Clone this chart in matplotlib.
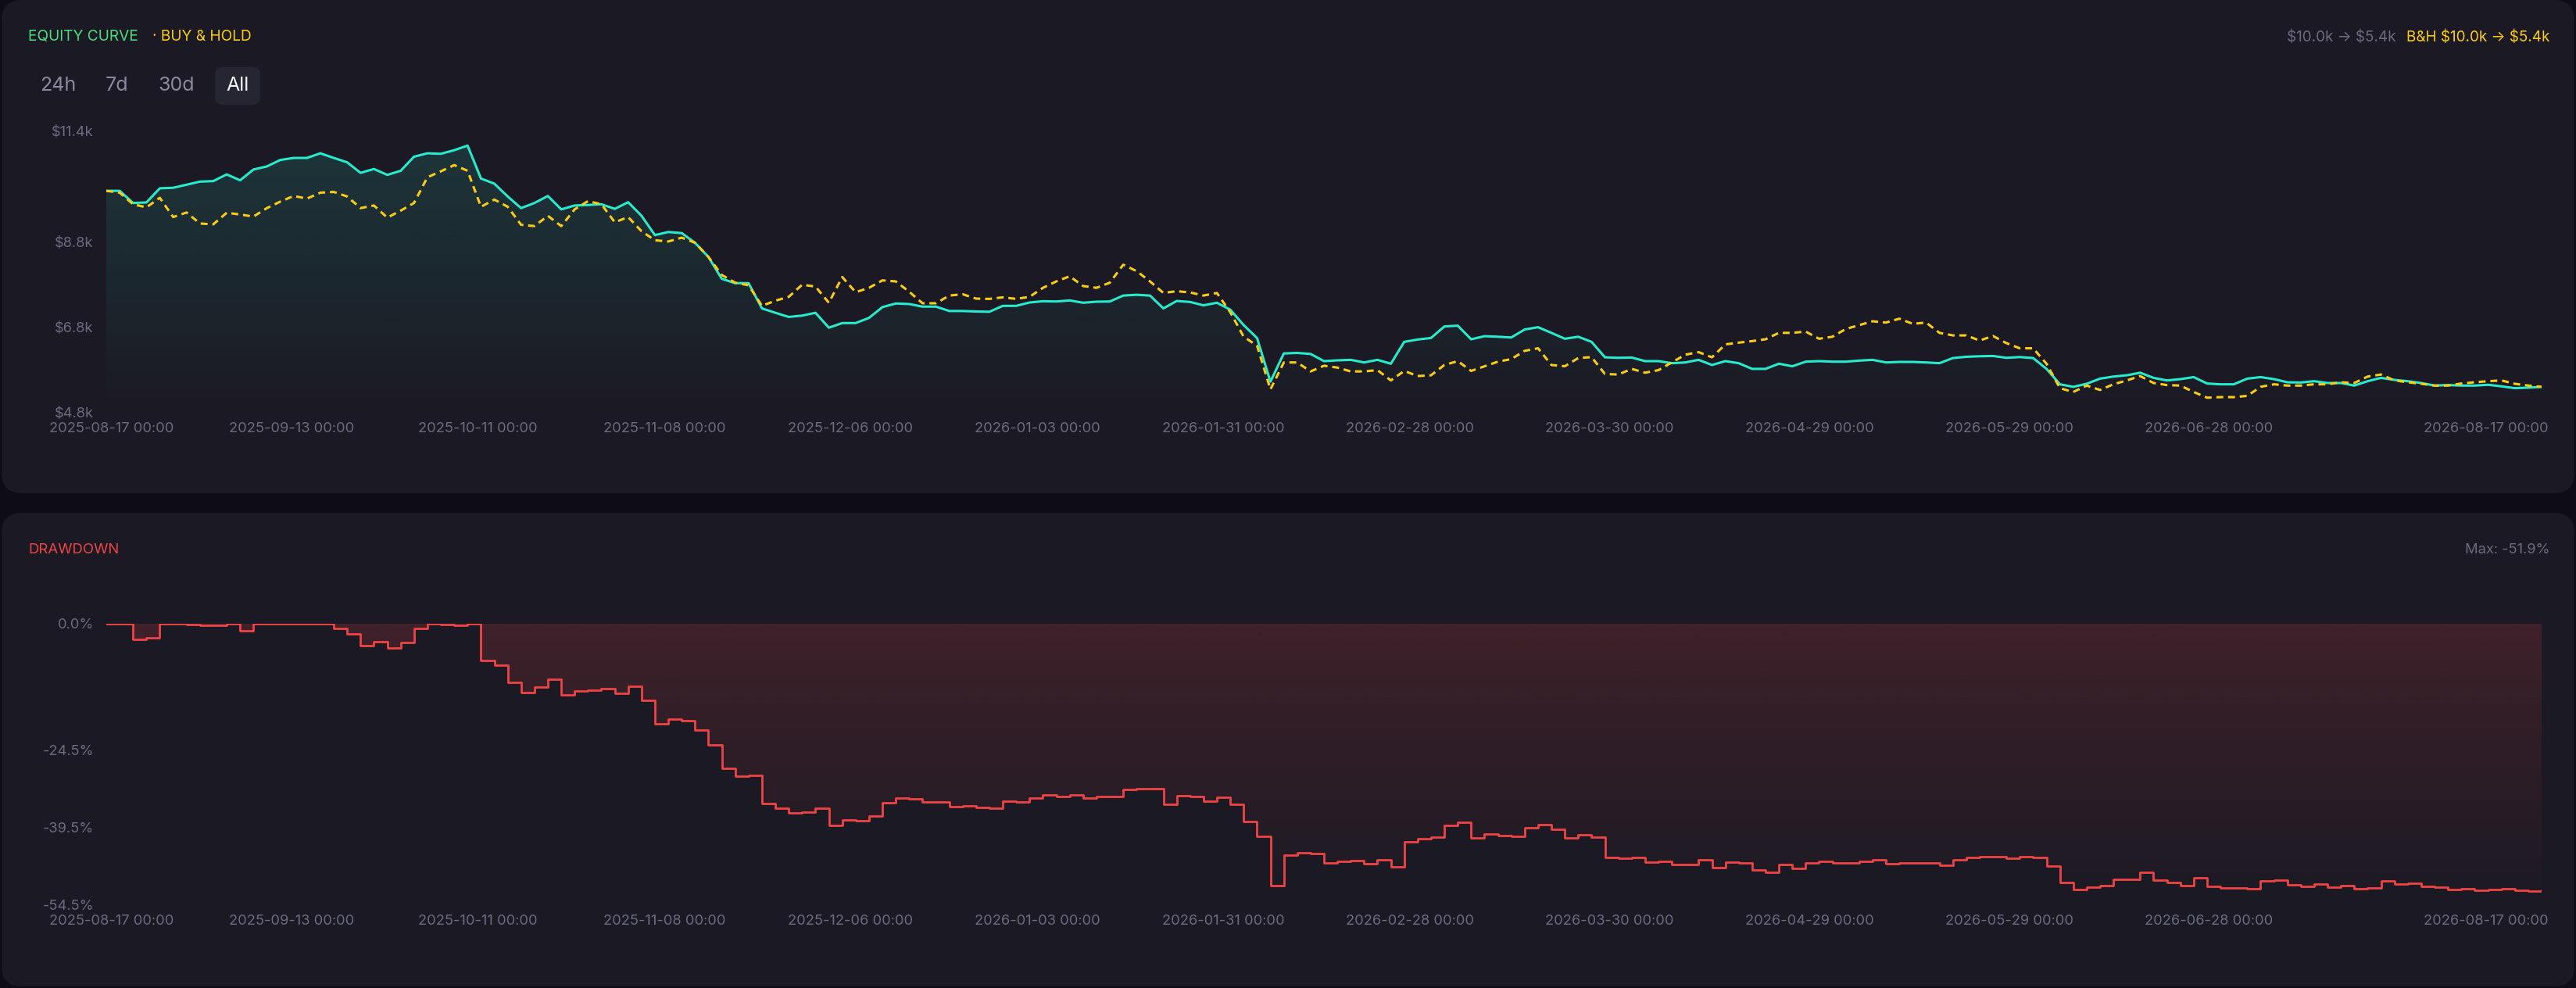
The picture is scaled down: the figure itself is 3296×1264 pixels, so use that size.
import numpy as np
import pandas as pd
import matplotlib
matplotlib.use('Agg')
import matplotlib.pyplot as plt
import matplotlib.dates as mdates
from matplotlib.patches import FancyBboxPatch
from matplotlib.transforms import IdentityTransform
from matplotlib.path import Path

plt.rcParams['font.family'] = ['Inter', 'DejaVu Sans']

# ---------------- data ----------------
start_time = '2025-08-16 04:00'
end_time = '2026-08-17 00:00'
n_points = 183

strategy_k = [
    10.000, 10.000, 9.715, 9.727, 10.060, 10.072, 10.145, 10.217, 10.230, 10.387,
    10.248, 10.502, 10.574, 10.726, 10.774, 10.774, 10.883, 10.774, 10.671, 10.423,
    10.514, 10.375, 10.472, 10.804, 10.883, 10.871, 10.956, 11.064, 10.290, 10.169,
    9.867, 9.594, 9.715, 9.879, 9.564, 9.655, 9.667, 9.685, 9.576, 9.733,
    9.413, 8.959, 9.032, 9.007, 8.778, 8.445, 7.931, 7.828, 7.828, 7.235,
    7.132, 7.035, 7.065, 7.132, 6.781, 6.890, 6.890, 7.011, 7.265, 7.350,
    7.338, 7.277, 7.277, 7.174, 7.174, 7.162, 7.156, 7.295, 7.295, 7.374,
    7.404, 7.398, 7.422, 7.368, 7.392, 7.398, 7.537, 7.555, 7.537, 7.235,
    7.410, 7.386, 7.307, 7.368, 7.205, 6.842, 6.539, 5.511, 6.176, 6.188,
    6.164, 5.995, 6.013, 6.025, 5.964, 6.025, 5.934, 6.448, 6.503, 6.539,
    6.811, 6.829, 6.509, 6.581, 6.569, 6.551, 6.739, 6.793, 6.660, 6.521,
    6.569, 6.448, 6.085, 6.073, 6.079, 5.995, 5.995, 5.946, 5.964, 6.025,
    5.904, 5.995, 5.946, 5.813, 5.813, 5.934, 5.874, 5.982, 5.995, 5.982,
    5.982, 6.007, 6.025, 5.964, 5.976, 5.976, 5.964, 5.946, 6.067, 6.097,
    6.109, 6.116, 6.073, 6.091, 6.067, 5.813, 5.450, 5.390, 5.462, 5.583,
    5.632, 5.662, 5.722, 5.601, 5.541, 5.571, 5.619, 5.468, 5.450, 5.450,
    5.583, 5.619, 5.571, 5.498, 5.492, 5.523, 5.480, 5.480, 5.420, 5.523,
    5.601, 5.553, 5.523, 5.480, 5.420, 5.432, 5.420, 5.420, 5.438, 5.402,
    5.359, 5.371, 5.390,
]

buy_hold_k = [
    10.000, 9.957, 9.685, 9.612, 9.836, 9.383, 9.491, 9.231, 9.213, 9.485,
    9.443, 9.395, 9.594, 9.746, 9.879, 9.818, 9.957, 9.975, 9.867, 9.594,
    9.655, 9.370, 9.534, 9.715, 10.320, 10.459, 10.605, 10.472, 9.625, 9.794,
    9.625, 9.201, 9.171, 9.413, 9.171, 9.564, 9.758, 9.685, 9.262, 9.383,
    9.050, 8.838, 8.808, 8.899, 8.778, 8.445, 8.021, 7.840, 7.779, 7.295,
    7.416, 7.507, 7.791, 7.749, 7.368, 7.973, 7.616, 7.719, 7.894, 7.870,
    7.628, 7.356, 7.356, 7.537, 7.568, 7.465, 7.459, 7.495, 7.459, 7.507,
    7.719, 7.870, 7.991, 7.761, 7.719, 7.840, 8.263, 8.112, 7.870, 7.598,
    7.640, 7.610, 7.537, 7.598, 7.144, 6.569, 6.358, 5.329, 5.964, 5.964,
    5.753, 5.886, 5.843, 5.753, 5.753, 5.783, 5.541, 5.765, 5.644, 5.662,
    5.904, 5.995, 5.765, 5.874, 5.982, 6.043, 6.237, 6.297, 5.904, 5.874,
    6.067, 6.090, 5.692, 5.680, 5.813, 5.722, 5.783, 5.964, 6.146, 6.206,
    6.085, 6.388, 6.430, 6.466, 6.509, 6.660, 6.660, 6.690, 6.521, 6.569,
    6.751, 6.842, 6.932, 6.902, 6.993, 6.872, 6.902, 6.660, 6.600, 6.600,
    6.479, 6.587, 6.418, 6.297, 6.297, 5.934, 5.359, 5.269, 5.420, 5.317,
    5.450, 5.541, 5.644, 5.480, 5.432, 5.420, 5.269, 5.135, 5.148, 5.148,
    5.178, 5.390, 5.450, 5.420, 5.420, 5.450, 5.450, 5.498, 5.480, 5.632,
    5.680, 5.541, 5.498, 5.462, 5.420, 5.420, 5.468, 5.498, 5.523, 5.541,
    5.462, 5.420, 5.390,
]

drawdown_pct = [
    0, 0, -3.0, -2.8, 0, 0, -0.1, -0.36, -0.36, 0,
    -1.42, 0, 0, 0, 0, 0, 0, -0.96, -1.93, -4.31,
    -3.5, -4.67, -3.7, -0.86, 0, -0.15, -0.36, 0, -7.1, -8.12,
    -11.42, -13.35, -12.28, -10.76, -13.76, -13.0, -12.89, -12.59, -13.55, -12.18,
    -14.92, -19.39, -18.58, -18.83, -20.71, -23.6, -28.1, -29.6, -29.4, -34.9,
    -35.9, -36.8, -36.6, -35.9, -39.2, -38.1, -38.2, -37.3, -34.8, -33.9,
    -34.0, -34.6, -34.6, -35.5, -35.4, -35.6, -35.8, -34.5, -34.6, -33.8,
    -33.2, -33.5, -33.2, -33.8, -33.5, -33.6, -32.2, -32.1, -32.0, -35.1,
    -33.4, -33.5, -34.4, -33.7, -35.1, -38.4, -41.3, -50.8, -45.0, -44.5,
    -44.6, -46.4, -46.1, -46.0, -46.6, -45.9, -47.2, -42.4, -41.7, -41.5,
    -39.2, -38.5, -41.6, -40.9, -41.1, -41.3, -39.6, -39.0, -39.9, -41.6,
    -41.0, -41.4, -45.4, -45.6, -45.4, -46.3, -46.2, -46.8, -46.8, -45.9,
    -47.3, -46.3, -46.5, -47.8, -48.3, -46.8, -47.5, -46.5, -46.2, -46.4,
    -46.4, -46.2, -45.9, -46.6, -46.5, -46.5, -46.4, -46.9, -45.8, -45.4,
    -45.3, -45.2, -45.5, -45.3, -45.4, -47.0, -50.2, -51.6, -51.2, -50.8,
    -49.7, -49.7, -48.3, -49.8, -50.3, -50.8, -49.4, -51.0, -51.3, -51.3,
    -51.5, -49.9, -49.8, -50.7, -51.0, -50.5, -51.2, -50.9, -51.5, -51.3,
    -49.9, -50.5, -50.4, -51.0, -51.1, -51.6, -51.4, -51.7, -51.6, -51.5,
    -51.8, -51.9, -51.7,
]

tick_dates = ['2025-08-17', '2025-09-13', '2025-10-11', '2025-11-08', '2025-12-06',
              '2026-01-03', '2026-01-31', '2026-02-28', '2026-03-30', '2026-04-29',
              '2026-05-29', '2026-06-28', '2026-08-17']
tick_labels = [d + ' 00:00' for d in tick_dates]

equity_ticks = [4800, 6800, 8800, 11400]
equity_tick_labels = ['$4.8k', '$6.8k', '$8.8k', '$11.4k']
dd_ticks = [0, -24.5, -39.5, -54.5]
dd_tick_labels = ['0.0%', '-24.5%', '-39.5%', '-54.5%']

ranges = ['24h', '7d', '30d', 'All']

# ---------------- style ----------------
W, H = 3296, 1264
DPI = 200
BG = '#0e0d15'
CARD = '#1b1a24'
TEAL = '#28ebcd'
YELLOW = '#facc15'
GREEN = '#4ade80'
RED = '#ef4444'
GREY = '#6b6a80'
BTN = '#8b8aa0'
TICK_FS = 6.6
X_PAD = 4.6

fig = plt.figure(figsize=(W / DPI, H / DPI), dpi=DPI)
fig.patch.set_facecolor(BG)


def card(x0, y0, x1, y1, color=CARD, r=26):
    p = FancyBboxPatch((x0, H - y1), x1 - x0, y1 - y0,
                       boxstyle='round,pad=0,rounding_size=%d' % r,
                       transform=IdentityTransform(), facecolor=color,
                       edgecolor='none', zorder=0)
    fig.add_artist(p)


def ftext(x, y, s, **kw):
    fig.text(x / W, 1 - y / H, s, parse_math=False, **kw)


card(2, 0, 3294, 631)
card(2, 656, 3294, 1262)

x = mdates.date2num(pd.date_range(start_time, end_time, periods=n_points))
strategy = np.array(strategy_k) * 1000
buy_hold = np.array(buy_hold_k) * 1000
dd = np.array(drawdown_pct)
xt = mdates.date2num(pd.to_datetime(tick_dates))

AX_L, AX_W = 136, 3116
AX_H = 359


def gradient_fill(ax, path, rgb, a_top, a_bot, ylo, yhi):
    g = np.zeros((256, 1, 4))
    g[:, 0, :3] = matplotlib.colors.to_rgb(rgb)
    g[:, 0, 3] = np.linspace(a_top, a_bot, 256)
    im = ax.imshow(g, extent=[x[0], x[-1], ylo, yhi], aspect='auto',
                   origin='upper', interpolation='bilinear', zorder=1)
    im.set_clip_path(path, transform=ax.transData)


def style_axis(ax):
    ax.set_facecolor('none')
    for s in ax.spines.values():
        s.set_visible(False)
    ax.tick_params(axis='both', length=0, labelsize=TICK_FS, labelcolor=GREY)
    ax.tick_params(axis='y', pad=5.8)
    ax.tick_params(axis='x', pad=X_PAD)
    ax.set_xticks(xt[:-1])
    ax.set_xticklabels(tick_labels[:-1])
    # last label is pulled inside so it ends just past the plot edge
    ax.annotate(tick_labels[-1], xy=(1.0, 0.0), xycoords='axes fraction',
                xytext=(3.2, -X_PAD), textcoords='offset points',
                ha='right', va='top', fontsize=TICK_FS, color=GREY,
                annotation_clip=False)


# ---------------- equity ----------------
ax1 = fig.add_axes([AX_L / W, (H - 527) / H, AX_W / W, AX_H / H])
style_axis(ax1)
poly = ax1.fill_between(x, strategy, 4800, facecolor='none', edgecolor='none')
path = Path.make_compound_path(*poly.get_paths())
gradient_fill(ax1, path, TEAL, 0.14, 0.0, 4800, 11400)
ax1.plot(x, strategy, color=TEAL, lw=1.1, zorder=3, solid_joinstyle='round')
ax1.plot(x, buy_hold, color=YELLOW, lw=1.1, dashes=(2.9, 2.0), zorder=4)
ax1.set_xlim(x[0], x[-1])
ax1.set_ylim(4800, 11400)
ax1.set_yticks(equity_ticks)
ax1.set_yticklabels(equity_tick_labels)

# ---------------- drawdown ----------------
ax2 = fig.add_axes([AX_L / W, (H - 1157) / H, AX_W / W, AX_H / H])
style_axis(ax2)
poly2 = ax2.fill_between(x, dd, 0, step='post', facecolor='none', edgecolor='none')
path2 = Path.make_compound_path(*poly2.get_paths())
gradient_fill(ax2, path2, RED, 0.17, 0.0, -54.5, 0)
ax2.step(x, dd, where='post', color=RED, lw=1.0, zorder=3)
ax2.set_xlim(x[0], x[-1])
ax2.set_ylim(-54.5, 0)
ax2.set_yticks(dd_ticks)
ax2.set_yticklabels(dd_tick_labels)

# ---------------- header texts ----------------
ftext(36, 47, 'EQUITY CURVE', color=GREEN, fontsize=6.9, va='center', ha='left')
ftext(195, 47, '· BUY & HOLD', color=YELLOW, fontsize=6.9, va='center', ha='left')
ftext(3066, 48, '$10.0k → $5.4k', color=GREY, fontsize=6.8, va='center', ha='right')
ftext(3262, 48, 'B&H $10.0k → $5.4k', color=YELLOW, fontsize=6.8, va='center', ha='right')

# range buttons
card(275, 86, 333, 134, color='#262532', r=10)
btn_x = [74, 150, 226, 304]
for lbl, bx in zip(ranges, btn_x):
    ftext(bx, 110, lbl, color='#f2f2f7' if lbl == 'All' else BTN, fontsize=9,
          va='center', ha='center')

ftext(36, 703, 'DRAWDOWN', color=RED, fontsize=6.7, va='center', ha='left')
ftext(3262, 703, 'Max: -51.9%', color=GREY, fontsize=6.6, va='center', ha='right')

fig.savefig('out.png', dpi=DPI, facecolor=fig.get_facecolor())
